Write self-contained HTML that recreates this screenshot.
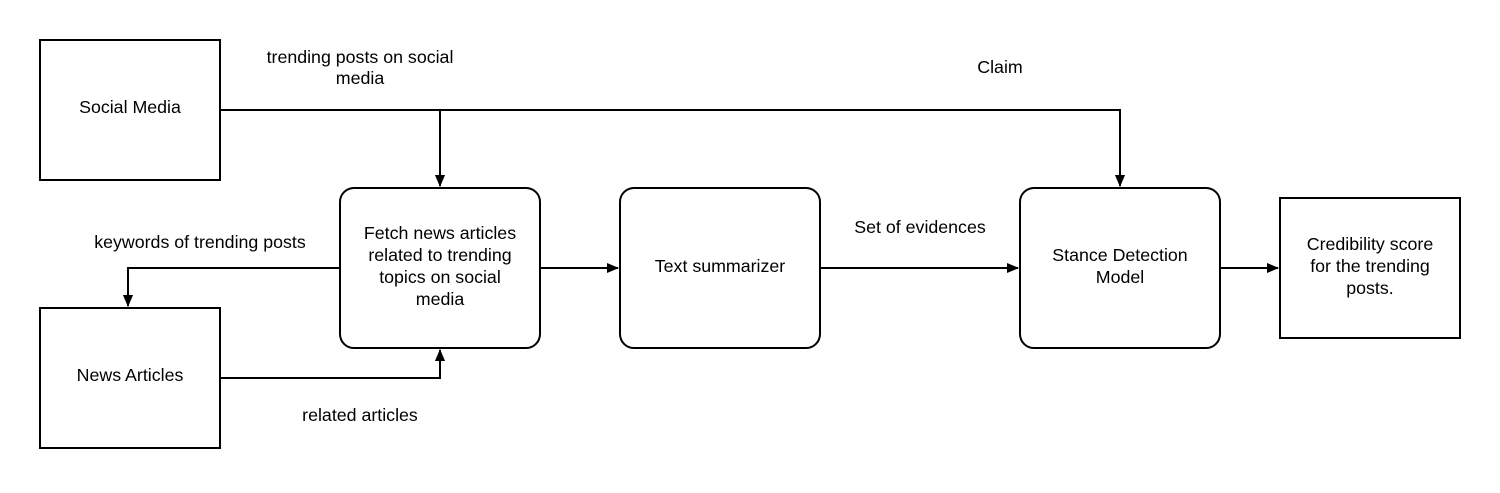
<!DOCTYPE html>
<html><head><meta charset="utf-8"><style>
html,body{margin:0;padding:0;background:#fff;}
svg text{font-family:"Liberation Sans",Arial,sans-serif;font-size:17.8px;fill:#000;}
</style></head><body>
<svg width="1500" height="488" viewBox="0 0 1500 488" xmlns="http://www.w3.org/2000/svg">
<defs><marker id="a" markerWidth="12" markerHeight="10" refX="11" refY="5" orient="auto" markerUnits="userSpaceOnUse"><path d="M0,0 L12,5 L0,10 z" fill="#000"/></marker></defs>
<g fill="none" stroke="#000" stroke-width="2">
<rect x="40" y="40" width="180" height="140"/>
<rect x="40" y="308" width="180" height="140"/>
<rect x="340" y="188" width="200" height="160" rx="14"/>
<rect x="620" y="188" width="200" height="160" rx="14"/>
<rect x="1020" y="188" width="200" height="160" rx="14"/>
<rect x="1280" y="198" width="180" height="140"/>
<path d="M220,110 H1120 V186" marker-end="url(#a)"/>
<path d="M440,110 V186" marker-end="url(#a)"/>
<path d="M340,268 H128 V306" marker-end="url(#a)"/>
<path d="M220,378 H440 V350" marker-end="url(#a)"/>
<path d="M540,268 H618" marker-end="url(#a)"/>
<path d="M820,268 H1018" marker-end="url(#a)"/>
<path d="M1220,268 H1278" marker-end="url(#a)"/>
</g>
<g text-anchor="middle">
<text x="130" y="113">Social Media</text>
<text x="130" y="381">News Articles</text>
<text x="440" y="239">Fetch news articles</text>
<text x="440" y="261">related to trending</text>
<text x="440" y="283">topics on social</text>
<text x="440" y="305">media</text>
<text x="720" y="272">Text summarizer</text>
<text x="1120" y="261">Stance Detection</text>
<text x="1120" y="283">Model</text>
<text x="1370" y="250">Credibility score</text>
<text x="1370" y="272">for the trending</text>
<text x="1370" y="294">posts.</text>
<text x="360" y="63">trending posts on social</text>
<text x="360" y="84">media</text>
<text x="1000" y="73">Claim</text>
<text x="200" y="248">keywords of trending posts</text>
<text x="360" y="421">related articles</text>
<text x="920" y="233">Set of evidences</text>
</g>
</svg>
</body></html>
